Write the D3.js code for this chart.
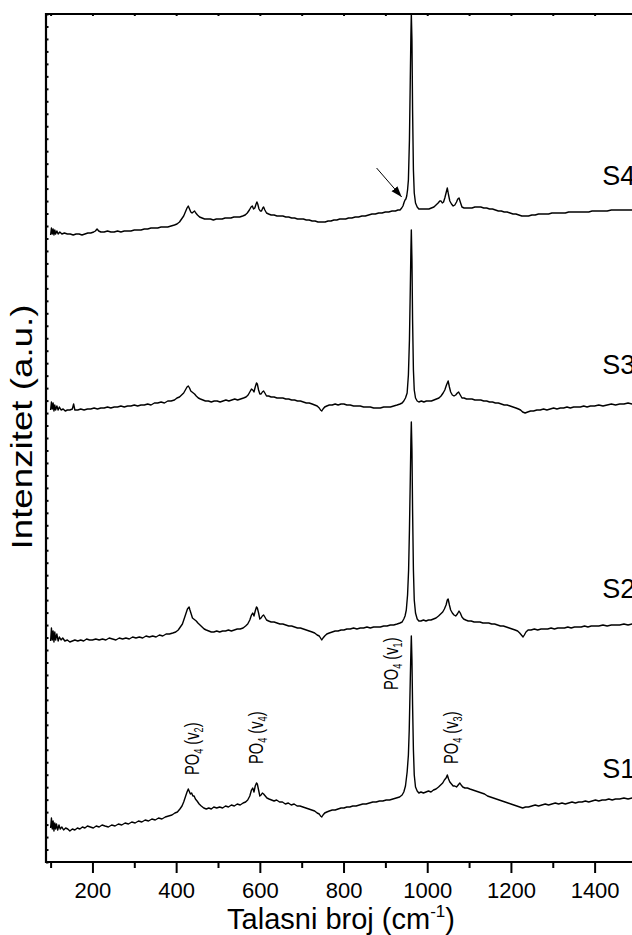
<!DOCTYPE html>
<html><head><meta charset="utf-8">
<script src="https://cdn.jsdelivr.net/npm/d3@7"></script>
<style>
body{margin:0;background:#fff}
svg{display:block;font-family:"Liberation Sans",Arial,Helvetica,sans-serif}
</style></head><body>
<svg id="chart" width="632" height="935"></svg>
<script>
// Raman spectra, [wavenumber cm^-1, intensity a.u.] — offset stack, S1 at the bottom
const s1 = [[100,34],[102,44],[104,33],[106,41],[108,31],[110,39],[112,33],[114,38],[117,32],[120,37],[123,33],[127,35],[131,32],[136,34],[141,33],[146,31],[152,33],[158,32],[164,34],[170,33],[176,35],[182,34],[188,36],[195,35],[202,34],[209,36],[216,35],[223,37],[230,36],[238,35],[246,37],[254,36],[262,38],[270,37],[278,39],[286,38],[294,40],[302,39],[310,41],[318,40],[326,42],[334,41],[342,43],[350,42],[358,44],[366,43],[374,45],[382,46],[390,47],[397,49],[403,50],[409,53],[414,56],[418,60],[422,65],[426,70],[429,73],[431,71],[434,68],[437,69],[440,66],[443,66],[446,63],[450,61],[455,58],[460,56],[466,54],[472,53],[478,54],[484,53],[490,55],[497,54],[504,55],[511,54],[518,56],[525,55],[532,57],[539,56],[546,58],[553,57],[560,59],[566,60],[571,62],[576,66],[580,72],[583,74],[586,70],[589,76],[592,79],[594,78],[597,72],[600,66],[603,67],[606,69],[609,68],[613,66],[617,64],[622,63],[628,62],[634,61],[640,62],[647,60],[654,60],[661,58],[668,59],[675,57],[682,58],[689,56],[696,56],[703,55],[710,54],[717,53],[724,52],[731,51],[737,49],[742,48],[745,46],[748,45],[751,47],[755,49],[760,50],[766,51],[773,52],[780,52],[787,53],[794,54],[801,54],[808,55],[815,55],[822,56],[830,56],[838,57],[846,58],[854,58],[862,59],[870,60],[878,60],[886,61],[894,61],[902,62],[910,62],[918,63],[926,64],[934,65],[940,67],[944,70],[948,76],[952,90],[955,107],[957,132],[959,172],[960.5,202],[962,226],[963.5,202],[965,157],[967,112],[969,87],[972,75],[976,71],[980,69],[985,70],[991,69],[997,70],[1003,71],[1009,70],[1015,72],[1021,73],[1027,75],[1032,77],[1037,79],[1041,82],[1045,84],[1048,87],[1051,83],[1054,80],[1058,78],[1062,76],[1066,76],[1070,75],[1074,77],[1078,79],[1081,77],[1085,75],[1090,74],[1096,74],[1102,73],[1109,72],[1116,71],[1123,70],[1130,69],[1137,68],[1144,66],[1151,65],[1158,64],[1165,63],[1172,62],[1179,61],[1186,60],[1193,59],[1200,58],[1207,57],[1214,56],[1221,55],[1228,54],[1235,55],[1242,55],[1250,56],[1258,57],[1266,56],[1274,57],[1282,58],[1290,57],[1298,58],[1306,59],[1314,58],[1322,59],[1330,58],[1338,59],[1346,60],[1354,59],[1362,60],[1370,60],[1378,61],[1386,60],[1394,61],[1402,62],[1410,61],[1418,62],[1426,62],[1434,63],[1442,62],[1450,63],[1460,63],[1470,64],[1480,63],[1490,64],[1500,64]];
const s2 = [[100,221],[102,234],[104,222],[106,231],[108,220],[110,230],[112,222],[115,228],[118,221],[121,225],[125,222],[129,224],[134,221],[140,222],[146,220],[152,221],[158,222],[165,221],[172,222],[179,221],[186,223],[193,222],[200,222],[208,223],[216,222],[224,223],[232,222],[240,224],[248,223],[256,222],[264,224],[272,223],[280,224],[288,223],[296,225],[304,224],[312,225],[320,224],[328,226],[336,225],[344,226],[352,225],[360,227],[368,226],[376,228],[384,228],[392,229],[399,230],[405,232],[410,235],[415,238],[419,243],[423,248],[427,253],[431,255],[433,252],[436,248],[439,244],[442,243],[445,242],[448,241],[452,239],[457,237],[462,235],[467,233],[472,232],[478,231],[484,230],[490,230],[497,231],[504,230],[511,231],[518,231],[525,232],[532,231],[539,232],[546,233],[553,233],[560,234],[566,236],[571,238],[576,242],[580,247],[583,249],[586,246],[589,251],[592,255],[594,254],[597,249],[600,243],[603,244],[606,246],[609,247],[612,245],[616,242],[621,241],[627,240],[634,240],[641,239],[648,238],[655,238],[662,237],[669,236],[676,236],[683,235],[690,234],[697,234],[704,233],[711,232],[718,231],[725,230],[731,229],[737,227],[742,226],[745,224],[748,222],[751,224],[755,226],[760,228],[766,229],[773,230],[780,231],[787,231],[794,232],[801,232],[808,233],[816,233],[824,234],[832,233],[840,234],[848,234],[856,235],[864,234],[872,235],[880,235],[888,235],[896,236],[904,236],[912,237],[920,237],[928,238],[935,239],[940,240],[944,243],[947,246],[950,252],[953,267],[955.5,292],[957.5,332],[959.5,382],[961,422],[962,440],[963.5,412],[965,352],[967,292],[969,262],[972,249],[976,243],[980,241],[985,241],[991,242],[997,241],[1003,242],[1009,242],[1015,243],[1021,244],[1027,246],[1032,248],[1037,250],[1041,253],[1045,257],[1048,262],[1050,263],[1053,257],[1056,252],[1060,249],[1064,247],[1068,246],[1072,248],[1076,251],[1079,249],[1083,245],[1087,243],[1092,242],[1098,241],[1105,241],[1112,240],[1119,240],[1126,240],[1133,239],[1140,239],[1147,239],[1154,238],[1161,238],[1168,237],[1175,236],[1182,236],[1189,235],[1196,234],[1203,233],[1210,232],[1216,231],[1221,229],[1225,227],[1229,225],[1232,227],[1236,230],[1241,232],[1248,232],[1256,233],[1264,232],[1272,233],[1280,233],[1288,233],[1296,234],[1304,233],[1312,234],[1320,234],[1328,234],[1336,235],[1344,234],[1352,235],[1360,235],[1368,235],[1376,236],[1384,235],[1392,236],[1400,236],[1410,236],[1420,237],[1430,236],[1440,237],[1450,237],[1460,237],[1470,238],[1480,237],[1490,238],[1500,238]];
const s3 = [[100,452],[102,460],[104,453],[106,459],[108,451],[110,457],[112,452],[115,456],[118,452],[121,455],[125,452],[130,453],[135,451],[140,452],[146,452],[152,453],[155,458],[158,452],[165,452],[172,453],[180,452],[188,453],[196,453],[204,454],[212,453],[220,454],[228,454],[236,455],[244,454],[252,455],[260,455],[268,456],[276,455],[284,456],[292,456],[300,457],[308,456],[316,457],[324,457],[332,458],[340,457],[348,459],[356,459],[364,460],[372,459],[380,461],[388,461],[396,462],[402,464],[408,465],[413,467],[418,469],[422,472],[426,475],[429,476],[432,474],[435,471],[438,470],[441,469],[444,468],[448,466],[453,464],[458,463],[464,462],[470,461],[477,461],[484,460],[491,461],[498,461],[505,460],[512,461],[519,462],[526,461],[533,462],[540,463],[547,462],[554,463],[561,464],[567,465],[572,467],[576,470],[580,473],[583,472],[586,470],[589,475],[592,479],[594,478],[597,472],[600,468],[603,468],[606,470],[609,471],[612,469],[616,466],[621,466],[627,465],[634,465],[641,464],[648,464],[655,464],[662,463],[669,463],[676,462],[683,462],[690,461],[697,461],[704,460],[711,459],[718,459],[725,458],[731,457],[737,456],[742,454],[745,452],[748,451],[751,453],[755,455],[760,456],[766,457],[773,457],[780,458],[787,457],[794,458],[801,458],[808,457],[816,457],[824,456],[832,456],[840,456],[848,455],[856,455],[864,455],[872,454],[880,454],[888,454],[896,455],[904,455],[912,455],[920,456],[928,457],[935,458],[940,459],[944,461],[948,464],[952,469],[955,487],[957.5,522],[959.5,572],[961,612],[962,632],[963.5,602],[965,542],[967,492],[969,472],[972,464],[976,461],[980,460],[986,461],[992,460],[998,461],[1004,461],[1010,461],[1016,462],[1022,463],[1028,464],[1033,466],[1038,469],[1042,472],[1046,477],[1050,481],[1053,475],[1056,470],[1060,467],[1064,466],[1068,467],[1072,469],[1075,470],[1079,467],[1083,464],[1088,464],[1094,463],[1100,463],[1107,463],[1114,462],[1121,462],[1128,462],[1135,461],[1142,461],[1149,460],[1156,460],[1163,459],[1170,459],[1177,458],[1184,457],[1191,457],[1198,456],[1205,455],[1212,454],[1218,453],[1223,452],[1228,450],[1234,449],[1240,450],[1247,451],[1254,451],[1262,452],[1270,452],[1278,453],[1286,452],[1294,453],[1302,454],[1310,453],[1318,454],[1326,454],[1334,455],[1342,454],[1350,455],[1358,455],[1366,455],[1374,456],[1382,455],[1390,456],[1400,456],[1410,457],[1420,456],[1430,457],[1440,458],[1450,457],[1460,458],[1470,458],[1480,459],[1490,458],[1500,459]];
const s4 = [[100,627],[102,634],[104,628],[106,633],[108,627],[110,632],[112,628],[115,631],[118,628],[122,630],[127,628],[133,629],[140,628],[147,628],[154,627],[161,628],[168,628],[175,627],[182,628],[189,629],[196,629],[203,630],[207,631],[211,633],[215,631],[220,630],[228,630],[236,631],[244,630],[252,630],[260,631],[268,630],[276,631],[284,631],[292,631],[300,632],[308,632],[316,632],[324,633],[332,633],[340,634],[348,634],[356,634],[364,635],[372,635],[380,635],[388,636],[396,637],[402,638],[408,640],[413,643],[418,646],[422,650],[426,654],[429,656],[432,653],[435,650],[438,649],[441,650],[444,651],[447,649],[451,647],[456,645],[462,644],[468,643],[475,643],[482,643],[489,642],[496,643],[503,643],[510,643],[517,644],[524,644],[531,644],[538,645],[545,645],[552,645],[559,646],[565,647],[570,649],[575,652],[579,655],[582,656],[585,653],[588,654],[591,658],[593,660],[595,658],[598,653],[601,651],[604,651],[607,654],[609,655],[612,652],[616,649],[621,648],[627,647],[634,647],[641,646],[648,646],[655,646],[662,645],[669,645],[676,644],[683,644],[690,643],[697,643],[704,643],[711,642],[718,642],[725,641],[732,641],[739,640],[745,640],[750,640],[756,640],[763,641],[770,641],[777,642],[784,642],[791,643],[798,643],[805,643],[812,644],[820,644],[828,645],[836,645],[844,646],[852,646],[860,647],[868,648],[876,648],[884,649],[892,649],[900,650],[908,650],[916,651],[924,651],[930,652],[935,652],[939,654],[942,656],[945,660],[947,662],[949,663],[951,666],[953,672],[955,682],[957.5,722],[959.5,782],[961,827],[962,848],[963.5,822],[965,752],[967,692],[969,669],[972,659],[976,655],[980,653],[986,653],[992,653],[998,653],[1004,653],[1010,654],[1016,655],[1021,657],[1026,659],[1030,661],[1033,661],[1036,659],[1039,660],[1042,664],[1045,669],[1048,674],[1051,667],[1054,661],[1058,658],[1062,656],[1066,657],[1070,660],[1073,663],[1076,664],[1079,660],[1083,655],[1088,654],[1094,654],[1100,654],[1107,654],[1114,655],[1121,655],[1128,655],[1135,654],[1142,654],[1149,653],[1156,653],[1163,652],[1170,651],[1177,651],[1184,650],[1191,650],[1198,649],[1205,648],[1212,648],[1219,647],[1226,646],[1234,646],[1242,646],[1250,647],[1258,647],[1266,648],[1274,648],[1282,648],[1290,648],[1298,649],[1306,649],[1314,649],[1322,649],[1330,649],[1338,650],[1346,650],[1354,650],[1362,650],[1370,650],[1378,650],[1386,650],[1394,651],[1402,651],[1410,651],[1420,651],[1430,651],[1440,652],[1450,652],[1460,652],[1470,652],[1480,652],[1490,652],[1500,652]];

const seriesData = [s1, s2, s3, s4];
const seriesNames = ["S1", "S2", "S3", "S4"];
// where each sample name sits: [wavenumber, intensity]
const seriesLabelAt = [[1418, 84], [1418, 264], [1418, 488], [1418, 677]];

// band assignments, anchored at [wavenumber, intensity]
const bandMode = ["2", "4", "1", "3"];
const bandAt = [[455, 87], [608, 98], [930, 172], [1073, 98]];

// arrow pointing at the shoulder of the S4 main band: [from], [to]
const arrowFrom = [879, 694];
const arrowTo = [939, 665];

const xMajor = [200, 400, 600, 800, 1000, 1200, 1400];
const xMinor = [100, 300, 500, 700, 900, 1100, 1300, 1500];
const yMax = 848;
const yStep = 848 / 68;

const svg = d3.select("#chart");
const plot = {left: 46, top: 14, bottom: 862};

const x = d3.scaleLinear().domain([89, 1800]).range([plot.left, plot.left + 1711 * 0.41847]);
const y = d3.scaleLinear().domain([0, yMax]).range([plot.bottom, plot.top]);

svg.append("defs").append("clipPath").attr("id", "clip")
  .append("rect").attr("x", plot.left).attr("y", plot.top - 1)
  .attr("width", 800).attr("height", plot.bottom - plot.top + 1);

const line = d3.line().x(d => x(d[0])).y(d => y(d[1]));

svg.append("g").attr("clip-path", "url(#clip)")
  .selectAll("path").data(seriesData).join("path")
  .attr("d", line).attr("fill", "none").attr("stroke", "#000")
  .attr("stroke-width", 1.4).attr("stroke-linejoin", "round");

// axes
const bottomMajor = svg.append("g").attr("transform", `translate(0,${plot.bottom})`)
  .call(d3.axisBottom(x).tickValues(xMajor).tickSize(11).tickPadding(9).tickFormat(d3.format("d")));
const bottomMinor = svg.append("g").attr("transform", `translate(0,${plot.bottom})`)
  .call(d3.axisBottom(x).tickValues(xMinor).tickSize(6).tickFormat(""));
bottomMinor.select(".domain").remove();
const topAxis = svg.append("g").attr("transform", `translate(0,${plot.top})`)
  .call(d3.axisBottom(x).tickValues(xMajor.concat(xMinor)).tickSize(2).tickFormat(""));
const leftAxis = svg.append("g").attr("transform", `translate(${plot.left},0)`)
  .call(d3.axisRight(y).tickValues(d3.range(0, yMax + 0.1, yStep)).tickSize(2.5).tickFormat(""));

[bottomMajor, bottomMinor, topAxis, leftAxis].forEach(g => {
  g.selectAll(".domain").attr("stroke", "#000").attr("stroke-width", 2.2);
  g.selectAll(".tick line").attr("stroke", "#000").attr("stroke-width", 2);
});
topAxis.select(".domain").attr("d", `M${plot.left},0H640`);
bottomMajor.select(".domain").attr("d", `M${plot.left},0H640`);
leftAxis.select(".domain").attr("d", `M0,${plot.top - 1}V${plot.bottom + 1}`);
bottomMajor.selectAll(".tick text").attr("font-size", 22).attr("fill", "#000")
  .attr("font-family", '"Liberation Sans",Arial,sans-serif');

// axis titles
const xt = svg.append("text").attr("x", 341).attr("y", 929).attr("text-anchor", "middle")
  .attr("font-size", 29).attr("fill", "#000");
xt.append("tspan").text("Talasni broj (cm");
xt.append("tspan").attr("font-size", 17).attr("dy", -12).text("-1");
xt.append("tspan").attr("dy", 12).text(")");

svg.append("text").attr("transform", "translate(32,427) rotate(-90)")
  .attr("text-anchor", "middle").attr("font-size", 29).attr("fill", "#000")
  .attr("textLength", 245).attr("lengthAdjust", "spacingAndGlyphs")
  .text("Intenzitet (a.u.)");

// sample names
svg.selectAll(".sname").data(seriesNames).join("text").attr("class", "sname")
  .attr("x", (d, i) => x(seriesLabelAt[i][0])).attr("y", (d, i) => y(seriesLabelAt[i][1]))
  .attr("font-size", 27).attr("fill", "#000").text(d => d);

// band labels, rotated
bandMode.forEach((m, i) => {
  const t = svg.append("text")
    .attr("transform", `translate(${x(bandAt[i][0])},${y(bandAt[i][1])}) rotate(-90) scale(0.7,1)`)
    .attr("font-size", 21).attr("fill", "#000");
  t.append("tspan").text("PO");
  t.append("tspan").attr("font-size", 13).attr("dy", 4).text("4");
  t.append("tspan").attr("dy", -4).text(" (v");
  t.append("tspan").attr("font-size", 13).attr("dy", 4).text(m);
  t.append("tspan").attr("dy", -4).text(")");
});

// arrow
svg.append("defs").append("marker").attr("id", "head")
  .attr("viewBox", "0 0 10 10").attr("refX", 10).attr("refY", 5)
  .attr("markerWidth", 11).attr("markerHeight", 11).attr("markerUnits", "userSpaceOnUse")
  .attr("orient", "auto")
  .append("path").attr("d", "M0,1.5L10,5L0,8.5Z").attr("fill", "#000");
svg.append("line")
  .attr("x1", x(arrowFrom[0])).attr("y1", y(arrowFrom[1]))
  .attr("x2", x(arrowTo[0])).attr("y2", y(arrowTo[1]))
  .attr("stroke", "#000").attr("stroke-width", 1).attr("marker-end", "url(#head)");
</script>
</body></html>
